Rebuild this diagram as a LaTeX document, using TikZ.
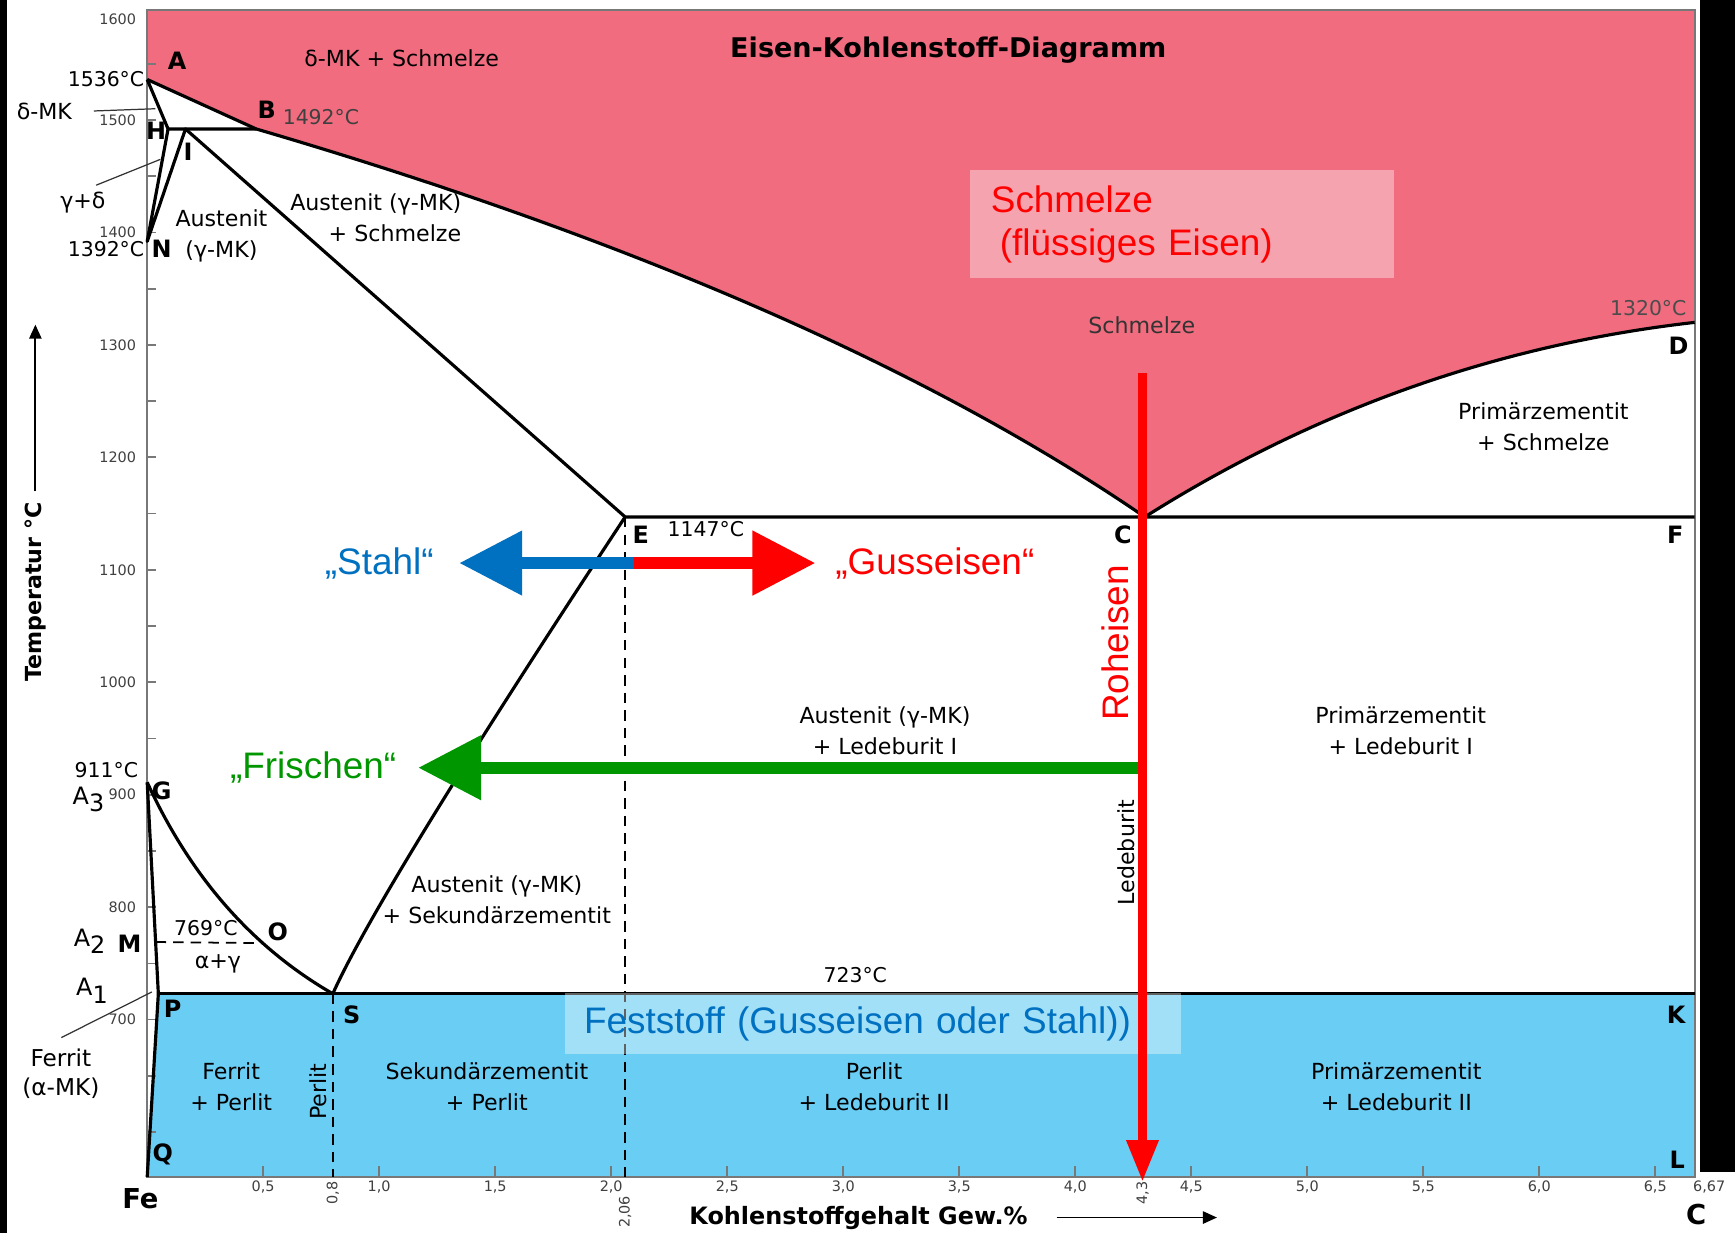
\documentclass[tikz,border=0pt]{standalone}
\usepackage{fontspec}
\setmainfont{DejaVu Sans}
\newfontfamily\arialschrift{Liberation Sans}
\usepackage{tikz}
\usetikzlibrary{arrows.meta,calc}

\definecolor{rosa}{RGB}{240,108,126}
\definecolor{hellblau}{RGB}{106,205,244}
\definecolor{blauschrift}{RGB}{0,112,192}
\definecolor{gruen}{RGB}{0,150,0}
\definecolor{rot}{RGB}{255,0,0}
\definecolor{rahmen}{RGB}{120,120,120}

\begin{document}
\begin{tikzpicture}[
  linie/.style={line width=0.9pt, line join=round},
  strich/.style={line width=0.5pt, dash pattern=on 3pt off 2pt},
  hinweis/.style={line width=0.35pt, black!80},
  pkt/.style={inner sep=0pt, font=\fontsize{6.8}{7}\selectfont\bfseries},
  feld/.style={inner sep=0pt, align=center, font=\fontsize{6.3}{8.8}\selectfont},
  grad/.style={inner sep=0pt, font=\fontsize{5.8}{6}\selectfont},
  skala/.style={inner sep=0pt, text=black!75, font=\fontsize{4.1}{4.5}\selectfont},
  gross/.style={inner sep=0pt, font=\arialschrift\fontsize{10.5}{12.2}\selectfont},
  kasten/.style={fill=white, fill opacity=0.38, text opacity=1, inner ysep=0pt, align=left, anchor=north west},
  dickpfeil/.style={line width=3.3pt, -{Triangle[length=0.63cm,width=0.62cm]}},
]
\useasboundingbox (0,0) rectangle (17.35,12.33);
\fill[white] (0,0) rectangle (17.35,12.33);
\fill[black] (0,0) rectangle (0.065,12.33);
\fill[black] (17.0,0.61) rectangle (17.35,12.33);

\begin{scope}[shift={(1.472cm,-5.738cm)}, x=2.32cm, y=0.011253cm]
% Punkte
\coordinate (A) at (0,1536);
\coordinate (B) at (0.47,1492);
\coordinate (H) at (0.09,1492);
\coordinate (I) at (0.165,1492);
\coordinate (N) at (0,1392);
\coordinate (E) at (2.06,1147);
\coordinate (C) at (4.3,1147);
\coordinate (F) at (6.67,1147);
\coordinate (D) at (6.67,1320);
\coordinate (G) at (0,911);
\coordinate (P) at (0.048,723);
\coordinate (S) at (0.8,723);
\coordinate (K) at (6.67,723);
\coordinate (Q) at (0,560);
\coordinate (L) at (6.67,560);
\coordinate (M) at (0.036,769);
\coordinate (O) at (0.5,768);
\coordinate (obenlinks) at (0,1598);
\coordinate (obenrechts) at (6.67,1598);
\coordinate (S0) at (0.8,560);
\coordinate (E0) at (2.06,560);

% Flaechen
\fill[rosa] (obenlinks) -- (A) -- (B) .. controls (2.09,1394) and (3.367,1279) .. (C)
  .. controls (5.035,1242.7) and (5.825,1300.3) .. (D) -- (obenrechts) -- cycle;
\fill[hellblau] (P) -- (K) -- (L) -- (Q) -- cycle;

% Achsen
\draw[rahmen, line width=0.6pt] (Q) -- (obenlinks) -- (obenrechts) -- (L) -- cycle;
\foreach \tg in {600,650,...,1550} \draw[rahmen, line width=0.5pt] (0,\tg) -- (0.04,\tg);
\foreach \i in {1,...,13} \draw[rahmen, line width=0.5pt] (\i*0.5,560) -- (\i*0.5,570);
\foreach \tg in {700,800,...,1500} \node[skala, anchor=east] (ty\tg) at (-0.045,\tg) {\tg};
\node[skala, anchor=east] (ty1600) at (-0.045,1590) {1600};
\foreach \i/\lab in {1/{0,5},2/{1,0},3/{1,5},4/{2,0},5/{2,5},6/{3,0},7/{3,5},8/{4,0},9/{4,5},10/{5,0},11/{5,5},12/{6,0},13/{6,5}}
  \node[skala] (tx\i) at (\i*0.5,551.5) {\lab};
\node[skala, rotate=90] (tx08) at (0.8,545.6) {0,8};
\node[skala, rotate=90] (tx206) at (2.06,529) {2,06};
\node[skala, rotate=90] (tx43) at (4.29,545.6) {4,3};
\node[skala] (tx667) at (6.733,551.5) {6,67};

% Linien
\draw[linie] (A) -- (B) .. controls (2.09,1394) and (3.367,1279) .. (C)
  .. controls (5.035,1242.7) and (5.825,1300.3) .. (D);
\draw[linie] (A) -- (H) -- (B);
\draw[linie] (H) -- (N) -- (I) -- (E) -- (F);
\draw[linie] (G) .. controls (0.187,827) and (0.453,764.3) .. (S)
  .. controls (0.933,784.3) and (1.353,925.7) .. (E);
\draw[linie] (G) -- (P) -- (Q);
\draw[linie] (P) -- (K);
\draw[strich] (M) -- (O);
\draw[strich] (S) -- (S0);
\draw[strich] (E) -- (E0);

\coordinate (dmkanf) at (-0.23,1508);
\coordinate (dmkziel) at (0.035,1510);
\coordinate (gdanf) at (-0.22,1442);
\coordinate (gdziel) at (0.057,1465);
\coordinate (feanf) at (-0.37,684);
\coordinate (feziel) at (0.02,724.6);
\draw[hinweis] (dmkanf) -- (dmkziel);
\draw[hinweis] (gdanf) -- (gdziel);
\draw[hinweis] (feanf) -- (feziel);

% Beschriftung
\node[pkt, font=\fontsize{7.7}{8}\selectfont\bfseries] (titel) at (3.453,1562) {Eisen-Kohlenstoff-Diagramm};
\node[pkt] (lA) at (0.129,1552.5) {A};
\node[feld] (dmkschm) at (1.097,1554.5) {δ-MK + Schmelze};
\node[pkt] (lB) at (0.515,1509) {B};
\node[grad, text=black!75] (t1492) at (0.749,1503) {1492°C};
\node[grad, anchor=east] (t1536) at (-0.01,1536) {1536°C};
\node[feld] (dmk) at (-0.443,1508) {δ-MK};
\node[pkt] (lH) at (0.038,1490.6) {H};
\node[pkt] (lI) at (0.176,1472) {I};
\node[feld] (gd) at (-0.277,1426.6) {γ+δ};
\node[grad, anchor=east] (t1392) at (-0.01,1385) {1392°C};
\node[pkt] (lN) at (0.062,1385.4) {N};
\node[feld] (aust1) at (0.32,1397) {Austenit\\(γ-MK)};
\node[feld, align=right] (aust2) at (0.985,1413) {Austenit (γ-MK)\\+ Schmelze};
\node[feld, text=black!80] (schm) at (4.287,1317.5) {Schmelze};
\node[grad, text=black!70] (t1320) at (6.47,1333) {1320°C};
\node[pkt] (lD) at (6.6,1299) {D};
\node[feld] (primschm) at (6.018,1227) {Primärzementit\\+ Schmelze};
\node[pkt] (lE) at (2.127,1131) {E};
\node[grad] (t1147) at (2.408,1136) {1147°C};
\node[pkt] (lC) at (4.206,1131) {C};
\node[pkt] (lF) at (6.586,1131) {F};
\node[feld] (austled) at (3.18,956.6) {Austenit (γ-MK)\\+ Ledeburit I};
\node[feld] (primled) at (5.403,956.6) {Primärzementit\\+ Ledeburit I};
\node[feld, rotate=90] (ledeb) at (4.22,848.5) {Ledeburit};
\node[grad] (t911) at (-0.176,922) {911°C};
\node[grad, font=\fontsize{6.8}{7}\selectfont] (a3) at (-0.253,896) {A\raisebox{-0.55ex}{3}};
\node[pkt] (lG) at (0.062,903.5) {G};
\node[feld] (austsek) at (1.507,807) {Austenit (γ-MK)\\+ Sekundärzementit};
\node[grad, font=\fontsize{6.8}{7}\selectfont] (a2) at (-0.248,769.8) {A\raisebox{-0.55ex}{2}};
\node[pkt] (lM) at (-0.076,767.8) {M};
\node[grad] (t769) at (0.253,781.6) {769°C};
\node[pkt] (lO) at (0.563,777.7) {O};
\node[feld] (ag) at (0.305,750) {α+γ};
\node[grad] (t723) at (3.052,739.3) {723°C};
\node[grad, font=\fontsize{6.8}{7}\selectfont] (a1) at (-0.238,725.6) {A\raisebox{-0.55ex}{1}};
\node[pkt] (lP) at (0.11,709.8) {P};
\node[pkt] (lS) at (0.882,704) {S};
\node[pkt] (lK) at (6.59,704) {K};
\node[feld, font=\fontsize{6.6}{8.4}\selectfont] (ferrit) at (-0.372,651.8) {Ferrit\\(α-MK)};
\node[feld] (fp) at (0.362,640) {Ferrit\\+ Perlit};
\node[feld, rotate=90] (perlit) at (0.739,636) {Perlit};
\node[feld] (sekp) at (1.464,640) {Sekundärzementit\\+ Perlit};
\node[feld] (pled) at (3.133,640) {Perlit\\+ Ledeburit II};
\node[feld] (primled2) at (5.384,640) {Primärzementit\\+ Ledeburit II};
\node[pkt] (lQ) at (0.067,580) {Q};
\node[pkt] (lL) at (6.595,575) {L};
\node[pkt, font=\fontsize{7.8}{8}\selectfont\bfseries] (fe) at (-0.029,541) {Fe};
\node[pkt, font=\fontsize{7.8}{8}\selectfont\bfseries] (cc) at (6.676,527) {C};
\node[pkt] (xlabel) at (3.066,524) {Kohlenstoffgehalt Gew.\%};
\coordinate (xanf) at (3.92,524);
\coordinate (xend) at (4.611,524);
\draw[line width=0.5pt, -{Triangle[length=4pt,width=3.5pt]}] (xanf) -- (xend);
\node[pkt, font=\fontsize{6.3}{7}\selectfont\bfseries, rotate=90] (tlabel) at (-0.482,1080) {Temperatur °C};
\coordinate (tspitze) at (-0.482,1318);
\draw[line width=0.5pt, -{Triangle[length=4pt,width=3.5pt]}, shorten <=3pt] (tlabel.east) -- (tspitze);

% Kaesten
\node[gross, kasten, text=rot, minimum width=4.24cm, minimum height=1.08cm, text width=3.82cm, inner xsep=0.21cm] (schmelzekasten) at (3.543,1456) {Schmelze\\\hspace*{0.09cm}(flüssiges Eisen)};
\node[gross, kasten, text=blauschrift, minimum width=6.16cm, minimum height=0.61cm, text width=5.78cm, inner xsep=0.19cm] (feststoff) at (1.798,724) {Feststoff (Gusseisen oder Stahl))};

% Pfeile
\node[gross, text=blauschrift] (stahl) at (1.0,1106) {„Stahl“};
\node[gross, text=rot] (guss) at (3.395,1106) {„Gusseisen“};
\node[gross, text=gruen] (frisch) at (0.715,924) {„Frischen“};
\node[gross, text=rot, rotate=90] (roh) at (4.173,1035) {Roheisen};
\coordinate (mitte) at (2.098,1106);
\coordinate (stahlspitze) at (1.345,1106);
\coordinate (gussspitze) at (2.88,1106);
\coordinate (frischanfang) at (4.29,924);
\coordinate (frischspitze) at (1.168,924);
\coordinate (rohoben) at (4.29,1275);
\coordinate (rohunten) at (4.29,555.5);
\draw[dickpfeil, blauschrift] (mitte) -- (stahlspitze);
\draw[dickpfeil, rot] (mitte) -- (gussspitze);
\draw[dickpfeil, gruen] (frischanfang) -- (frischspitze);
\draw[rot, line width=2.65pt, -{Triangle[length=0.42cm,width=0.3cm]}] (rohoben) -- (rohunten);
\end{scope}
\end{tikzpicture}
\end{document}
